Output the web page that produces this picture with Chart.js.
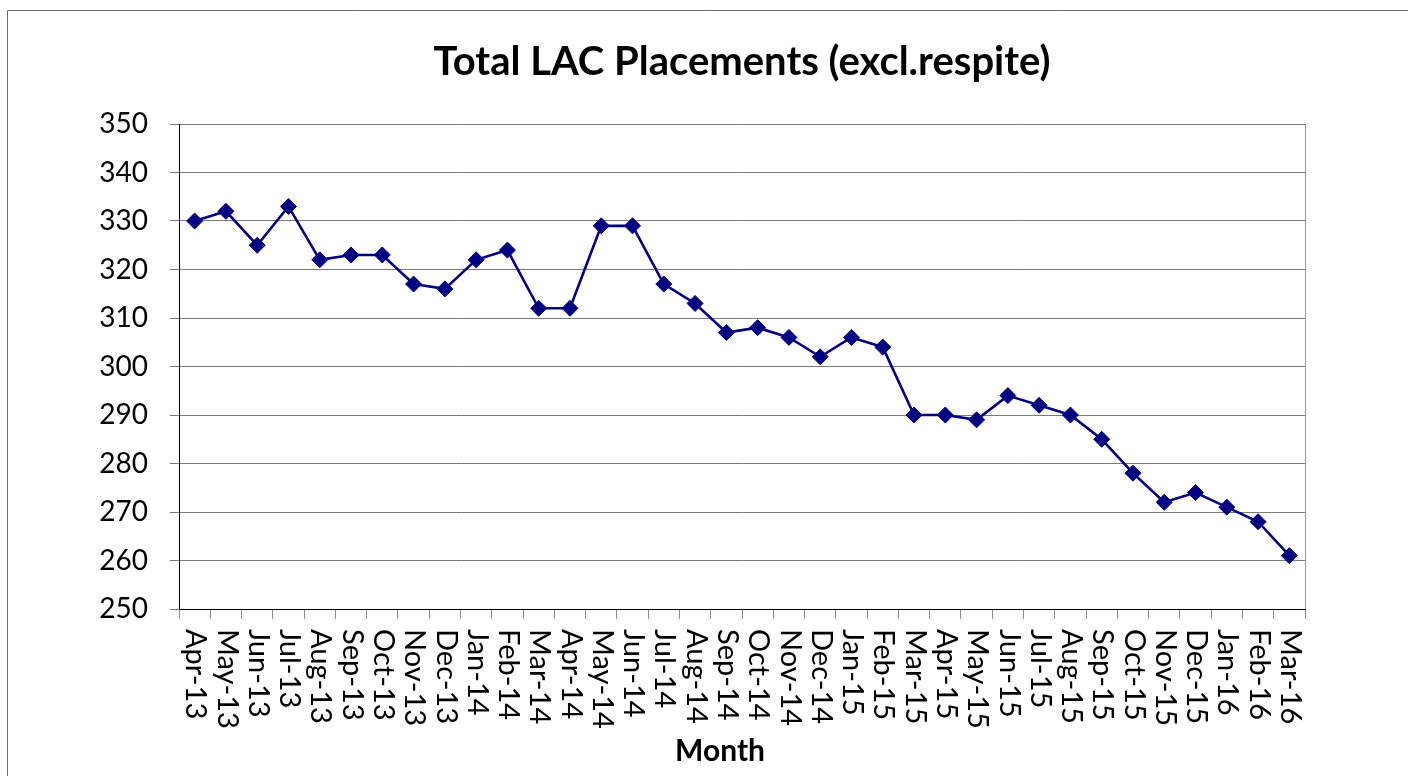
<!DOCTYPE html>
<html>
<head>
<meta charset="utf-8">
<script src="https://cdn.jsdelivr.net/npm/chart.js@4"></script>
<style>
  html, body { margin: 0; padding: 0; background: #fff; }
  #wrap { width: 1408px; height: 776px; position: relative; }
</style>
</head>
<body>
<div id="wrap"><canvas id="lacChart" width="1408" height="776"></canvas></div>
<script>
    // values
    const months = ['Apr-13', 'May-13', 'Jun-13', 'Jul-13', 'Aug-13', 'Sep-13', 'Oct-13', 'Nov-13', 'Dec-13',
        'Jan-14', 'Feb-14', 'Mar-14', 'Apr-14', 'May-14', 'Jun-14', 'Jul-14', 'Aug-14', 'Sep-14', 'Oct-14',
        'Nov-14', 'Dec-14', 'Jan-15', 'Feb-15', 'Mar-15', 'Apr-15', 'May-15', 'Jun-15', 'Jul-15', 'Aug-15',
        'Sep-15', 'Oct-15', 'Nov-15', 'Dec-15', 'Jan-16', 'Feb-16', 'Mar-16'];
    const placements = [330, 332, 325, 333, 322, 323, 323, 317, 316,
        322, 324, 312, 312, 329, 329, 317, 313, 307, 308,
        306, 302, 306, 304, 290, 290, 289, 294, 292, 290,
        285, 278, 272, 274, 271, 268, 261];
    const yMin = 250;
    const yMax = 350;
    const yStep = 10;

    const FONT = "Lato, 'Open Sans', 'Noto Sans', sans-serif";

    // frame round the chart + right edge of plot + x labels written top-to-bottom
    const extras = {
        id: 'extras',
        beforeDraw(chart) {
            const c = chart.ctx;
            c.save();
            c.fillStyle = '#fff';
            c.fillRect(0, 0, chart.width, chart.height);
            c.strokeStyle = '#6b6b6b';
            c.lineWidth = 1;
            c.beginPath();
            c.moveTo(7.5, chart.height);
            c.lineTo(7.5, 10.5);
            c.lineTo(chart.width, 10.5);
            c.stroke();
            c.restore();
        },
        afterDraw(chart) {
            const c = chart.ctx;
            const area = chart.chartArea;
            const xs = chart.scales.x;
            c.save();
            c.strokeStyle = '#9a9a9a';
            c.lineWidth = 1;
            c.beginPath();
            c.moveTo(Math.round(area.right) + 0.5, area.top);
            c.lineTo(Math.round(area.right) + 0.5, area.bottom);
            c.stroke();

            c.fillStyle = '#000';
            c.font = '29px ' + FONT;
            c.textAlign = 'left';
            c.textBaseline = 'middle';
            months.forEach(function (m, i) {
                const x = xs.getPixelForTick(i);
                c.save();
                c.translate(x + 1, area.bottom + 20);
                c.rotate(Math.PI / 2);
                c.fillText(m, 0, 0);
                c.restore();
            });

            // axis title sits a little left of the plot centre in the original
            c.font = 'bold 30px ' + FONT;
            c.textAlign = 'center';
            c.fillText('Month', 720, 751);
            c.restore();
        }
    };

    new Chart(document.getElementById('lacChart'), {
        type: 'line',
        data: {
            labels: months,
            datasets: [{
                data: placements,
                borderColor: '#000080',
                backgroundColor: '#000080',
                borderWidth: 2.6,
                pointStyle: 'rectRot',
                pointRadius: 8,
                pointBorderWidth: 1,
                pointBackgroundColor: '#000080',
                pointBorderColor: '#000080',
                tension: 0
            }]
        },
        options: {
            responsive: false,
            animation: false,
            layout: {
                padding: { left: 89, right: 103, top: 0, bottom: 0 }
            },
            plugins: {
                legend: { display: false },
                tooltip: { enabled: false },
                title: {
                    display: true,
                    text: 'Total LAC Placements (excl.respite)',
                    color: '#000',
                    fullSize: false,
                    font: { family: FONT, size: 40, weight: 'bold' },
                    padding: { top: 38, bottom: 38 }
                }
            },
            scales: {
                x: {
                    offset: true,
                    afterFit(s) { s.height = 167; },
                    grid: {
                        display: true,
                        offset: true,
                        drawOnChartArea: false,
                        drawTicks: true,
                        tickLength: 10,
                        color: '#8a8a8a'
                    },
                    border: { color: '#000', width: 1 },
                    ticks: { display: false }
                },
                y: {
                    min: yMin,
                    max: yMax,
                    afterFit(s) { s.width = 90; },
                    grid: {
                        color: '#7a7a7a',
                        lineWidth: 1,
                        tickLength: 9
                    },
                    border: { color: '#000', width: 1 },
                    ticks: {
                        stepSize: yStep,
                        padding: 22,
                        color: '#000',
                        font: { family: FONT, size: 28 }
                    }
                }
            }
        },
        plugins: [extras]
    });
</script>
</body>
</html>
